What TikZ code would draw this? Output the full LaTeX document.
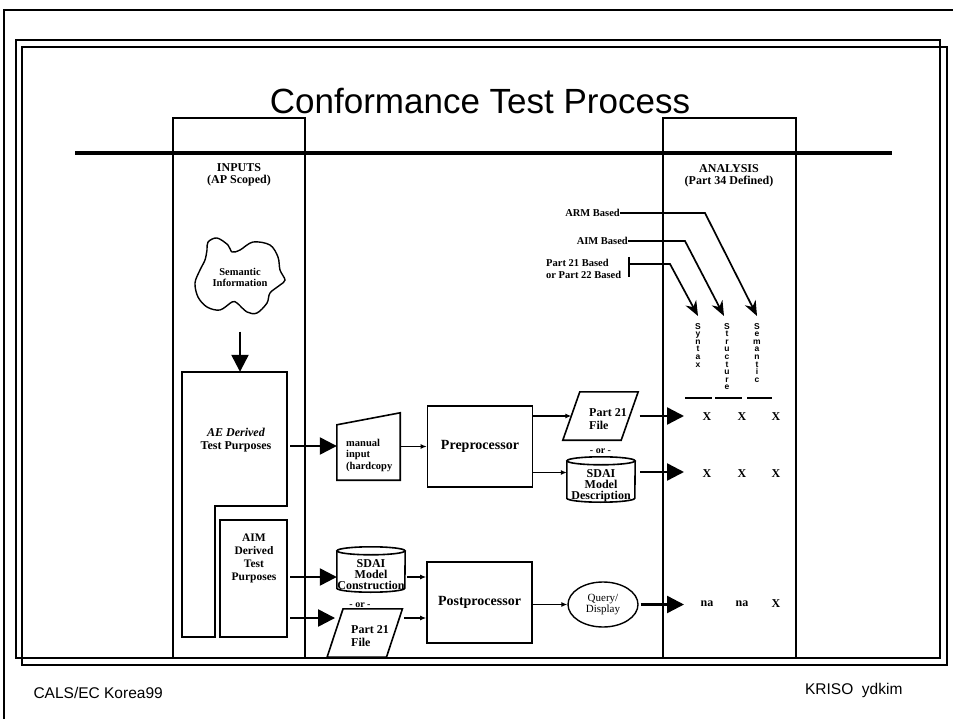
\documentclass[tikz,border=0pt]{standalone}
\usepackage{fontspec}
\setmainfont{Liberation Serif}
\newfontfamily\headfont{Liberation Sans}
\usetikzlibrary{positioning}
\usetikzlibrary{arrows.meta}
\usetikzlibrary{shapes.geometric}

\tikzset{
  box/.style={draw, line width=1.6pt, inner sep=0pt},
  hole/.style={inner sep=0pt},
  lbl/.style={font=\fontsize{12}{12.5}\selectfont\bfseries, align=center, inner sep=0pt},
  note/.style={font=\fontsize{10.5}{11.5}\selectfont\bfseries, align=left, inner sep=0pt},
  cellmark/.style={font=\fontsize{12}{12}\selectfont\bfseries, inner sep=0pt},
  vtext/.style={font=\headfont\bfseries\fontsize{8.5}{7.6}\selectfont, align=center, inner sep=0pt, anchor=north},
  bigarr/.style={line width=2.4pt, -{Triangle[length=17pt,width=17pt]}},
  thinarr/.style={line width=1.3pt, -{Latex[length=6pt,width=5pt]}},
  feedarr/.style={line width=1.7pt, -{Stealth[length=15pt,width=12pt]}},
}

\newcommand{\drum}[2]{% node, half width
  \draw[line width=1.6pt] ([yshift=-4pt]#1.north west) -- ([yshift=4pt]#1.south west)
    arc[start angle=180, end angle=360, x radius=#2pt, y radius=4pt]
    -- ([yshift=-4pt]#1.north east);
  \draw[line width=1.6pt] ([yshift=-4pt]#1.north) ellipse[x radius=#2pt, y radius=4pt];
}
\newcommand{\slantbox}[2]{% node, slant offset
  \draw[line width=1.6pt] ([xshift=#2pt]#1.north west) -- ([xshift=#2pt]#1.north east)
    -- ([xshift=-#2pt]#1.south east) -- ([xshift=-#2pt]#1.south west) -- cycle;
}

\begin{document}
\begin{tikzpicture}[x=1pt, y=-1pt]
\useasboundingbox (0,0) rectangle (953,719);

% page frame
\draw[line width=1.2pt] (4,719) -- (4,10) -- (953,10);
\draw[line width=1.6pt] (16,40) rectangle (940,658);
\draw[line width=1.6pt] (22,47) rectangle (947,665);

\node[font=\headfont\fontsize{35}{35}\selectfont] (title) at (480,101) {Conformance Test Process};

% columns
\draw[line width=1.4pt] (173,658) -- (173,118) -- (305,118) -- (305,658);
\draw[line width=1.4pt] (663,658) -- (663,118) -- (796,118) -- (796,658);
\draw[line width=4.5pt] (75,153) -- (892,153);
\node[lbl] (inputs) at (239,175) {INPUTS\\(AP Scoped)};
\node[lbl] (analysis) at (729,176) {ANALYSIS\\(Part 34 Defined)};

% semantic information
\draw[line width=1.4pt] plot[smooth cycle, tension=0.55] coordinates {(208,242) (217,238) (228,245) (232,252) (240,250) (253,242) (270,245) (278,257) (280,270) (285,280) (280,285) (270,293) (267,303) (257,313) (247,312) (237,303) (232,302) (220,310) (207,307) (198,297) (195,283) (200,270) (205,260) (207,250)};
\node[hole, minimum width=92pt, minimum height=77pt, align=center, font=\fontsize{10.5}{11}\selectfont\bfseries] (sem) at (240,277) {Semantic\\Information};

% AE derived
\draw[line width=1.6pt] (182,372) -- (287,372) -- (287,506) -- (215,506) -- (215,637) -- (182,637) -- cycle;
\node[hole, minimum width=105pt, minimum height=134pt] (aetop) at (234.5,439) {};
\node[lbl] (aetxt) at (236,440) {\textit{AE Derived}\\Test Purposes};
\draw[bigarr] ([yshift=-16pt]sem.south) -- (sem |- aetop.north);

% AIM derived
\node[box, minimum width=67pt, minimum height=117pt] (aim) at (253.5,578.5) {};
\node[lbl, font=\fontsize{11.5}{13}\selectfont\bfseries] (aimtxt) at (254,558) {AIM\\Derived\\Test\\Purposes};
\coordinate (ae-out) at (290,446);
\coordinate (aim-up) at (290,577);
\coordinate (aim-dn) at (290,618);

% manual input
\node[hole, minimum width=63pt, minimum height=67pt] (manual) at (368.5,446.5) {};
\draw[line width=1.6pt] (manual.south west) -- (manual.south east) -- (manual.north east) -- ([yshift=-12pt]manual.north west) -- cycle;
\node[note, anchor=west] (mantxt) at (346,455) {manual\\input\\(hardcopy};
\draw[bigarr] (ae-out) -- (manual.west |- ae-out);

% preprocessor
\node[box, minimum width=105pt, minimum height=81pt, font=\fontsize{14}{14}\selectfont\bfseries] (pre) at (480,446.5) {Preprocessor};
\draw[thinarr] (manual.east |- pre) -- (pre.west);

\node[hole, minimum width=58pt, minimum height=48pt] (p21a) at (600.5,416) {};
\slantbox{p21a}{8.5}
\node[lbl, align=left, anchor=west] (p21atxt) at (589,419) {Part 21\\File};
\node[lbl, font=\fontsize{10}{10}\selectfont\bfseries, below=8pt of p21a] (or1) {- or -};
\node[hole, minimum width=68pt, minimum height=45pt] (sdaid) at (601,479.5) {};
\drum{sdaid}{34}
\node[lbl, font=\fontsize{12}{11}\selectfont\bfseries] (sdaidtxt) at (601,486) {SDAI\\Model\\Description};
\coordinate (sd-in) at ([yshift=7pt]sdaid.west);
\draw[thinarr] (pre.east |- p21a.west) -- (p21a.west);
\draw[thinarr] (pre.east |- sd-in) -- (sd-in);

% postprocessor
\node[hole, minimum width=68pt, minimum height=45pt] (sdaic) at (371,569.5) {};
\drum{sdaic}{34}
\node[lbl, font=\fontsize{12}{11}\selectfont\bfseries] (sdaictxt) at (371,575) {SDAI\\Model\\Construction};
\node[hole, minimum width=59pt, minimum height=48pt] (p21b) at (364.75,633) {};
\slantbox{p21b}{8}
\node[lbl, align=left, anchor=west] (p21btxt) at (351,636) {Part 21\\File};
\node[lbl, font=\fontsize{10}{10}\selectfont\bfseries] (or2) at (360,605) {- or -};
\draw[bigarr] (aim-up) -- (sdaic.west |- aim-up);
\draw[bigarr] (aim-dn) -- (p21b.west |- aim-dn);

\node[box, minimum width=105pt, minimum height=81pt, font=\fontsize{14}{14}\selectfont\bfseries] (post) at (479.5,602.5) {Postprocessor};
\draw[thinarr] ([xshift=2pt]sdaic.east |- aim-up) -- (post.west |- aim-up);
\draw[thinarr] ([xshift=10pt]p21b.east |- aim-dn) -- (post.west |- aim-dn);
\node[draw, ellipse, line width=1.4pt, minimum width=70pt, minimum height=45pt, inner sep=0pt, align=center, font=\fontsize{11}{10.5}\selectfont] (query) at (603,604.5) {Query/\\Display};
\draw[thinarr] (post.east |- query) -- (query.west);

% analysis
\coordinate (in1) at (684,416);
\coordinate (in2) at (684,472);
\coordinate (in3) at (684,604.5);
\draw[bigarr] ([xshift=10pt]p21a.east) -- (in1);
\draw[bigarr] ([xshift=5pt]sdaid.east |- in2) -- (in2);
\draw[bigarr] ([xshift=2pt]query.east) -- (in3);

\node[cellmark] (x11) at (707,417) {X};
\node[cellmark] (x12) at (742,417) {X};
\node[cellmark] (x13) at (776,417) {X};
\node[cellmark] (x21) at (707,474) {X};
\node[cellmark] (x22) at (742,474) {X};
\node[cellmark] (x23) at (776,474) {X};
\node[cellmark] (x31) at (707,604) {na};
\node[cellmark] (x32) at (742,604) {na};
\node[cellmark] (x33) at (776,604) {X};

\node[vtext] (syn) at (698,323) {S\\y\\n\\t\\a\\x};
\node[vtext] (str) at (727,323) {S\\t\\r\\u\\c\\t\\u\\r\\e};
\node[vtext] (smn) at (757,323) {S\\e\\m\\a\\n\\t\\i\\c};
\draw[line width=1.2pt] (685,398) -- (712,398);
\draw[line width=1.2pt] (715,398) -- (742,398);
\draw[line width=1.2pt] (747,398) -- (772,398);

% based on
\node[note, anchor=east] (arm) at (620,213) {ARM Based};
\node[note, anchor=east] (aimb) at (628,241) {AIM Based};
\node[note, anchor=west] (p2x) at (546,269) {Part 21 Based\\or Part 22 Based};
\coordinate (arm-bend) at (705,213);
\coordinate (aimb-bend) at (685,241);
\coordinate (p2x-top) at (629,257);
\coordinate (p2x-bot) at (629,277);
\coordinate (p2x-mid) at (629,264);
\coordinate (p2x-bend) at (670,264);
\draw[feedarr] (arm.east) -- (arm-bend) -- ([yshift=7pt]smn.north);
\draw[feedarr] (aimb.east) -- (aimb-bend) -- ([xshift=-3pt,yshift=7pt]str.north);
\draw[line width=1.4pt] (p2x-top) -- (p2x-bot);
\draw[feedarr] (p2x-mid) -- (p2x-bend) -- ([yshift=7pt]syn.north);

% footer
\node[font=\headfont\fontsize{15.5}{15.5}\selectfont, anchor=west] (cals) at (30,693) {CALS/EC Korea99};
\node[font=\headfont\fontsize{15.5}{15.5}\selectfont, anchor=east] (kriso) at (906,690) {KRISO\ \ ydkim};
\end{tikzpicture}
\end{document}
